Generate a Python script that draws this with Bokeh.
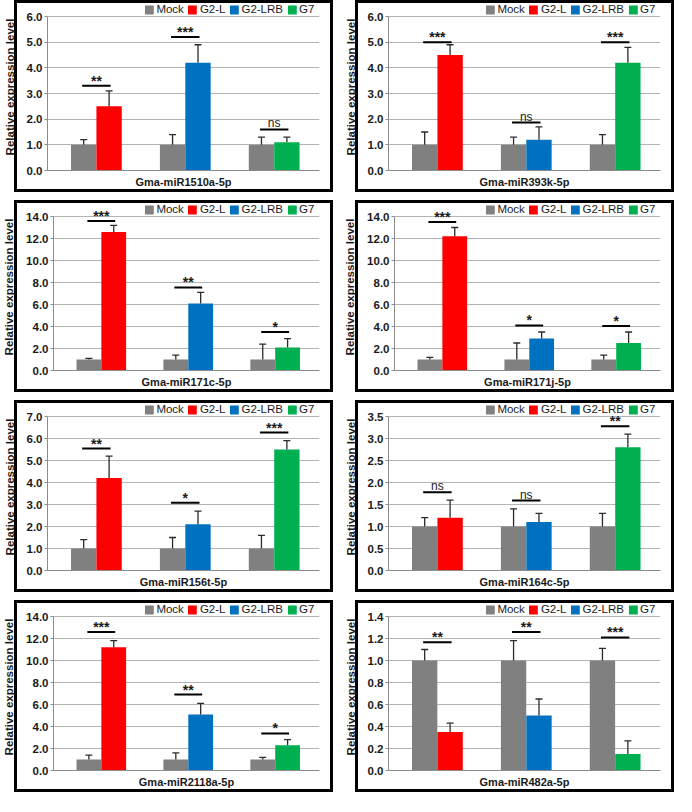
from bokeh.plotting import figure
from bokeh.models import (ColumnDataSource, Whisker, TeeHead, Legend, LegendItem,
                          FixedTicker, NumeralTickFormatter, Range1d)
from bokeh.layouts import row, column
from bokeh.embed import file_html
from bokeh.resources import INLINE
from bokeh.core.properties import value

# ---------------- data ----------------
panel_titles = ["Gma-miR1510a-5p", "Gma-miR393k-5p", "Gma-miR171c-5p", "Gma-miR171j-5p",
                "Gma-miR156t-5p", "Gma-miR164c-5p", "Gma-miR2118a-5p", "Gma-miR482a-5p"]
series_names = ["Mock", "G2-L", "G2-LRB", "G7"]
treatments = ["G2-L", "G2-LRB", "G7"]

y_ticks = [
    [0, 1, 2, 3, 4, 5, 6],
    [0, 1, 2, 3, 4, 5, 6],
    [0, 2, 4, 6, 8, 10, 12, 14],
    [0, 2, 4, 6, 8, 10, 12, 14],
    [0, 1, 2, 3, 4, 5, 6, 7],
    [0, 0.5, 1.0, 1.5, 2.0, 2.5, 3.0, 3.5],
    [0, 2, 4, 6, 8, 10, 12, 14],
    [0, 0.2, 0.4, 0.6, 0.8, 1.0, 1.2, 1.4],
]

mock_mean = [
    [1.0, 1.0, 1.0], [1.0, 1.0, 1.0], [1.0, 1.0, 1.0], [1.0, 1.0, 1.0],
    [1.0, 1.0, 1.0], [1.0, 1.0, 1.0], [1.0, 1.0, 1.0], [1.0, 1.0, 1.0],
]
mock_err = [
    [0.2, 0.4, 0.3],
    [0.5, 0.3, 0.4],
    [0.1, 0.4, 1.4],
    [0.2, 1.5, 0.4],
    [0.4, 0.5, 0.6],
    [0.2, 0.4, 0.3],
    [0.4, 0.6, 0.2],
    [0.1, 0.18, 0.11],
]
trt_mean = [
    [2.5, 4.2, 1.1],
    [4.5, 1.2, 4.2],
    [12.6, 6.1, 2.1],
    [12.2, 2.9, 2.5],
    [4.2, 2.1, 5.5],
    [1.2, 1.1, 2.8],
    [11.2, 5.1, 2.3],
    [0.35, 0.5, 0.15],
]
trt_err = [
    [0.6, 0.7, 0.2],
    [0.4, 0.5, 0.6],
    [0.6, 1.0, 0.8],
    [0.8, 0.6, 1.0],
    [1.0, 0.6, 0.4],
    [0.4, 0.2, 0.3],
    [0.6, 1.0, 0.5],
    [0.08, 0.15, 0.12],
]
sig_text = [
    ["**", "***", "ns"],
    ["***", "ns", "***"],
    ["***", "**", "*"],
    ["***", "*", "*"],
    ["**", "*", "***"],
    ["ns", "ns", "**"],
    ["***", "**", "*"],
    ["**", "**", "***"],
]
sig_y = [
    [3.3, 5.2, 1.6],
    [5.0, 1.87, 5.0],
    [13.6, 7.55, 3.5],
    [13.5, 4.1, 4.05],
    [5.54, 3.08, 6.27],
    [1.78, 1.59, 3.28],
    [12.6, 6.9, 3.37],
    [1.166, 1.26, 1.21],
]

# ---------------- style ----------------
FONT = "Liberation Sans"
COLORS = {"Mock": "#808080", "G2-L": "#ff0000", "G2-LRB": "#0070c0", "G7": "#00b050"}
W, H = 333, 192
TOP, BOTTOM, RIGHT = 3, 22, 14
HEADROOM = 13   # pixels between the top tick line and the top of the plot frame
OFF = 0.143
BAR_W = 0.285
AXIS_GRAY = "#8c8c8c"
GRID_GRAY = "#b4b4b4"
ERR_COL = "#2b2b2b"
BOX_X = 14  # left edge of the black panel box (the y label sits outside it)

BOX_CSS = {
    "background": (
        f"linear-gradient(#000,#000) left {BOX_X}px top 0px / 3px 100% no-repeat,"
        "linear-gradient(#000,#000) right 0px top 0px / 3px 100% no-repeat,"
        f"linear-gradient(#000,#000) left {BOX_X}px top 0px / calc(100% - {BOX_X}px) 3px no-repeat,"
        f"linear-gradient(#000,#000) left {BOX_X}px bottom 0px / calc(100% - {BOX_X}px) 3px no-repeat"
    )
}


def make_panel(i):
    xs, vals, ups, cols = [], [], [], []
    for g in range(3):
        xs += [g - OFF, g + OFF]
        vals += [mock_mean[i][g], trt_mean[i][g]]
        ups += [mock_mean[i][g] + mock_err[i][g], trt_mean[i][g] + trt_err[i][g]]
        cols += [COLORS["Mock"], COLORS[treatments[g]]]
    src = ColumnDataSource(dict(x=xs, val=vals, up=ups, color=cols))

    ticks = y_ticks[i]
    frame_h = H - TOP - BOTTOM
    y_end = ticks[-1] * frame_h / (frame_h - HEADROOM)
    p = figure(width=W, height=H, output_backend="svg", toolbar_location=None,
               x_range=Range1d(-0.55, 2.51), y_range=Range1d(0, y_end),
               min_border_left=0, min_border_right=RIGHT, min_border_top=TOP,
               min_border_bottom=BOTTOM, background_fill_color="white",
               border_fill_color="white", border_fill_alpha=0,
               outline_line_color=None, styles=BOX_CSS)

    bars = p.vbar(x="x", top="val", width=BAR_W, fill_color="color",
                  line_color=None, source=src)

    wh = Whisker(base="x", lower="val", upper="up", source=src, dimension="height",
                 line_color=ERR_COL, line_width=1.3, level="annotation",
                 upper_head=TeeHead(size=7, line_color=ERR_COL, line_width=1.3),
                 lower_head=None)
    p.add_layout(wh)

    # significance bars
    gx = [0, 1, 2]
    p.segment(x0=[g - 0.16 for g in gx], x1=[g + 0.16 for g in gx],
              y0=sig_y[i], y1=sig_y[i], line_color="black", line_width=2)
    star_x = [g for g, t in zip(gx, sig_text[i]) if t != "ns"]
    star_y = [y for y, t in zip(sig_y[i], sig_text[i]) if t != "ns"]
    star_t = [t for t in sig_text[i] if t != "ns"]
    ns_x = [g for g, t in zip(gx, sig_text[i]) if t == "ns"]
    ns_y = [y for y, t in zip(sig_y[i], sig_text[i]) if t == "ns"]
    ns_t = [t for t in sig_text[i] if t == "ns"]
    if star_t:
        p.text(x=star_x, y=star_y, text=star_t, text_font=value(FONT),
               text_font_size="14px", text_font_style="bold", text_align="center",
               text_baseline="alphabetic", y_offset=-5, text_color="#1a1a1a")
    if ns_t:
        p.text(x=ns_x, y=ns_y, text=ns_t, text_font=value(FONT),
               text_font_size="12px", text_align="center",
               text_baseline="alphabetic", y_offset=-6, text_color="#1a1a1a")

    # axes
    yax = p.yaxis[0]
    yax.ticker = FixedTicker(ticks=ticks)
    yax.bounds = (0, ticks[-1])
    yax.formatter = NumeralTickFormatter(format="0.0")
    yax.axis_label = "Relative expression level"
    yax.axis_label_text_font = FONT
    yax.axis_label_text_font_size = "11.5px"
    yax.axis_label_text_font_style = "bold"
    yax.axis_label_text_color = "#1a1a1a"
    yax.axis_label_standoff = 8
    yax.major_label_text_font = FONT
    yax.major_label_text_font_size = "11.5px"
    yax.major_label_text_font_style = "bold"
    yax.major_label_text_color = "#1a1a1a"
    yax.major_label_standoff = 2
    yax.major_tick_out = 3
    yax.major_tick_in = 0
    yax.minor_tick_line_color = None
    yax.axis_line_color = AXIS_GRAY
    yax.major_tick_line_color = AXIS_GRAY

    xax = p.xaxis[0]
    xax.axis_label = panel_titles[i]
    xax.axis_label_text_font = FONT
    xax.axis_label_text_font_size = "11px"
    xax.axis_label_text_font_style = "bold"
    xax.axis_label_text_color = "#1a1a1a"
    xax.axis_label_standoff = 1
    xax.major_label_text_alpha = 0
    xax.major_tick_in = 0
    xax.major_tick_out = 0
    xax.major_tick_line_color = None
    xax.minor_tick_line_color = None
    xax.axis_line_color = AXIS_GRAY

    p.xgrid.visible = False
    p.ygrid.grid_line_color = GRID_GRAY
    p.ygrid.ticker = FixedTicker(ticks=ticks)

    # legend in the headroom above the top tick line
    idx = {"Mock": 0, "G2-L": 1, "G2-LRB": 3, "G7": 5}
    items = [LegendItem(label=n, renderers=[bars], index=idx[n]) for n in series_names]
    leg = Legend(items=items, orientation="horizontal", location="top_right",
                 glyph_width=11, glyph_height=11, label_height=12, label_standoff=2,
                 spacing=3, padding=0, margin=0, border_line_color=None,
                 background_fill_alpha=0, label_text_font=FONT,
                 label_text_font_size="11.5px", label_text_color="#1a1a1a")
    p.add_layout(leg)
    return p


panels = [make_panel(i) for i in range(8)]
layout = column(
    row(panels[0], panels[1], spacing=8),
    row(panels[2], panels[3], spacing=8),
    row(panels[4], panels[5], spacing=8),
    row(panels[6], panels[7], spacing=8),
    spacing=8,
)

open("out.html", "w").write(file_html(layout, INLINE))
